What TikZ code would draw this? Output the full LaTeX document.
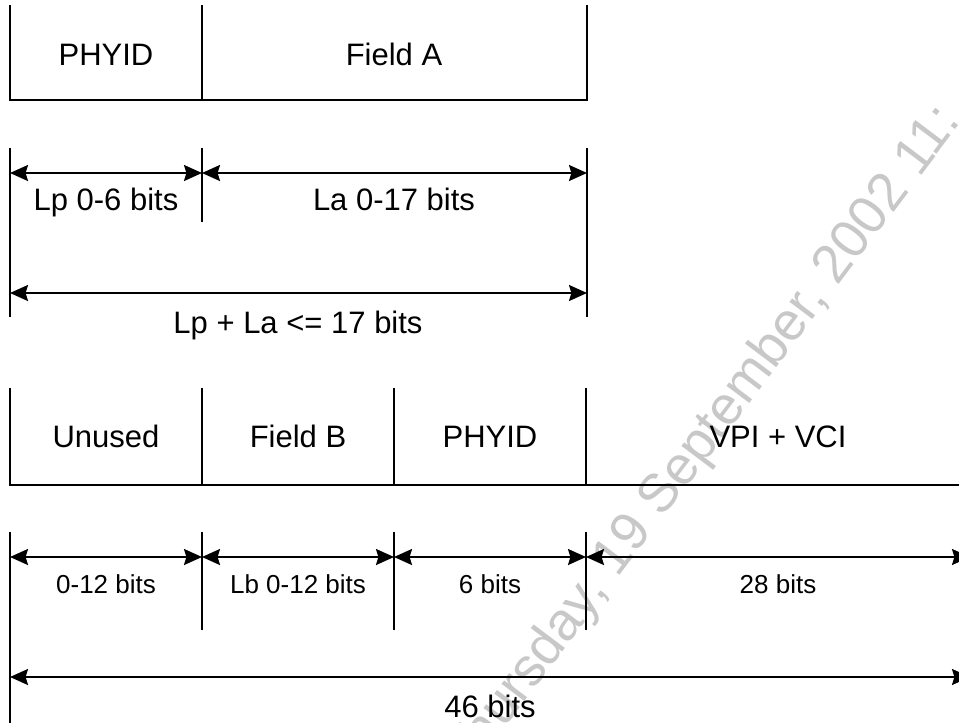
\documentclass[tikz,border=0pt]{standalone}
\usepackage{fontspec}
\setmainfont{Liberation Sans}
\usetikzlibrary{arrows.meta,positioning}
\definecolor{stampgray}{RGB}{200,200,200}

\begin{document}
\begin{tikzpicture}[
    x=0.5pt, y=-0.5pt,
    rule/.style={line width=1pt},
    dim/.style={line width=1pt, {Stealth[length=9pt,width=8pt,inset=1.2pt]}-{Stealth[length=9pt,width=8pt,inset=1.2pt]}},
    field/.style={font=\fontsize{15.5}{18}\selectfont, inner sep=0pt, anchor=base},
    bitlbl/.style={font=\fontsize{13}{16}\selectfont, inner sep=0pt, anchor=base}
]
    \useasboundingbox (0,0) rectangle (959,723);
    \clip (0,0) rectangle (959,723);

    % Date stamp behind the drawing
    \node[rotate=53, text=stampgray, font=\fontsize{27}{30}\selectfont] (stamp) at (703,442) {Thursday, 19 September, 2002 11:};

    % Row 1: PHYID and Field A
    \draw[rule] (10,5) -- (10,100) -- (587,100) -- (587,5);
    \draw[rule] (202,5) -- (202,100);
    \node[field] (phyidA) at (106,65) {PHYID};
    \node[field] (fieldA) at (394,65) {Field A};

    % Row 2: lengths of row 1
    \coordinate (lp0) at (10,173);
    \coordinate (lp1) at (202,173);
    \coordinate (lp2) at (587,173);
    \coordinate (tot0) at (10,293);
    \coordinate (tot1) at (587,293);
    \draw[rule] (10,148) -- (10,317);
    \draw[rule] (202,148) -- (202,222);
    \draw[rule] (587,148) -- (587,317);
    \draw[dim] (lp0) -- (lp1);
    \draw[dim] (lp1) -- (lp2);
    \draw[dim] (tot0) -- (tot1);
    \node[field] (lpbits) at (106,210) {Lp 0-6 bits};
    \node[field] (labits) at (394,210) {La 0-17 bits};
    \node[field] (lpla) at (298,333) {Lp + La <= 17 bits};

    % Row 3: Unused, Field B, PHYID, VPI + VCI
    \draw[rule] (10,388) -- (10,485) -- (975,485);
    \draw[rule] (202,388) -- (202,485);
    \draw[rule] (394,388) -- (394,485);
    \draw[rule] (586,388) -- (586,485);
    \node[field] (unused) at (106,447) {Unused};
    \node[field] (fieldB) at (298,447) {Field B};
    \node[field] (phyidB) at (490,447) {PHYID};
    \node[field] (vpivci) at (778,447) {VPI + VCI};

    % Row 4: lengths of row 3
    \coordinate (b0) at (10,557);
    \coordinate (b1) at (202,557);
    \coordinate (b2) at (394,557);
    \coordinate (b3) at (586,557);
    \coordinate (b4) at (970,557);
    \coordinate (all0) at (10,677);
    \coordinate (all1) at (970,677);
    \draw[rule] (10,532) -- (10,730);
    \draw[rule] (202,532) -- (202,630);
    \draw[rule] (394,532) -- (394,630);
    \draw[rule] (586,532) -- (586,630);
    \draw[dim] (b0) -- (b1);
    \draw[dim] (b1) -- (b2);
    \draw[dim] (b2) -- (b3);
    \draw[dim] (b3) -- (b4);
    \draw[dim] (all0) -- (all1);
    \node[bitlbl] (unusedbits) at (106,593) {0-12 bits};
    \node[bitlbl] (lbbits) at (298,593) {Lb 0-12 bits};
    \node[bitlbl] (phyidbits) at (490,593) {6 bits};
    \node[bitlbl] (vcibits) at (778,593) {28 bits};
    \node[field] (allbits) at (490,717) {46 bits};
\end{tikzpicture}
\end{document}
